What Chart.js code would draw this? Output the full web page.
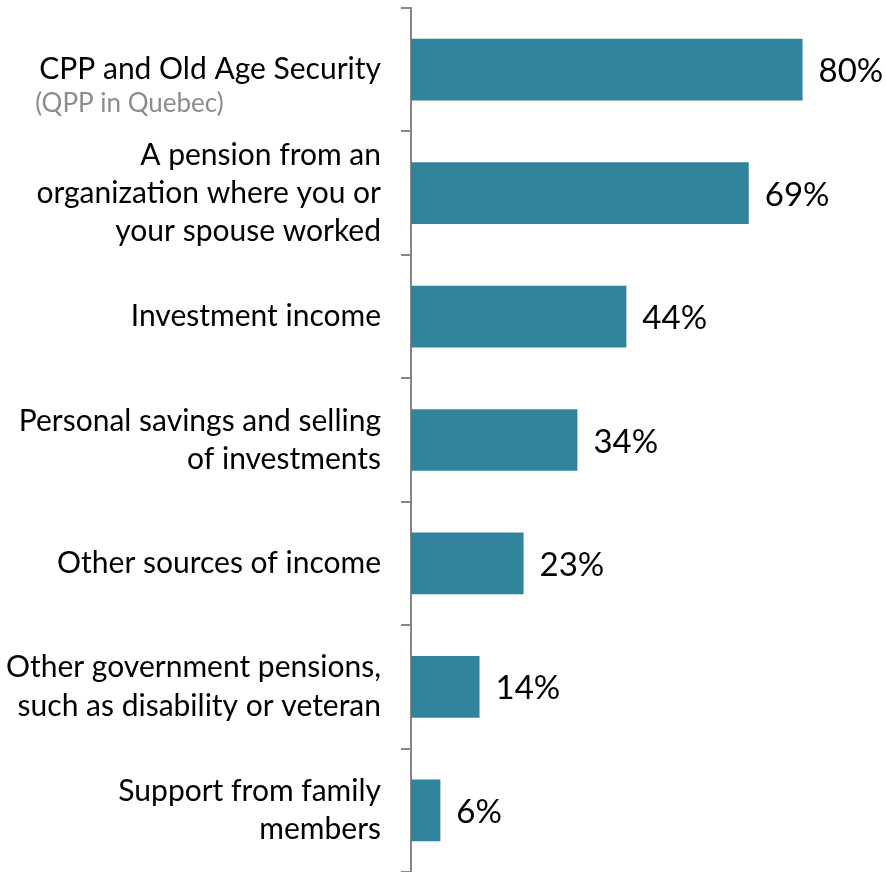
<!DOCTYPE html>
<html>
<head>
<meta charset="utf-8">
<script src="https://cdn.jsdelivr.net/npm/chart.js@4"></script>
<style>
  html, body { margin: 0; padding: 0; background: #fff; }
  #wrap { width: 886px; height: 872px; }
</style>
</head>
<body>
<div id="wrap"><canvas id="bars"></canvas></div>
<script>
const labels = [
  "CPP and Old Age Security",
  ["A pension from an", "organization where you or", "your spouse worked"],
  "Investment income",
  ["Personal savings and selling", "of investments"],
  "Other sources of income",
  ["Other government pensions,", "such as disability or veteran"],
  ["Support from family", "members"]
];
const values = [80, 69, 44, 34, 23, 14, 6];
const subNote = "(QPP in Quebec)";

const FONT = "Lato, 'Open Sans', sans-serif";

// percent labels at bar ends + grey note under the first category
const extras = {
  id: 'extras',
  afterDatasetsDraw(chart) {
    const ctx = chart.ctx;
    const meta = chart.getDatasetMeta(0);
    ctx.save();
    ctx.font = "33px " + FONT;
    ctx.fillStyle = "#000";
    ctx.textBaseline = "middle";
    ctx.textAlign = "left";
    meta.data.forEach(function(bar, i) {
      ctx.fillText(values[i] + "%", bar.x + 16, bar.y + 2);
    });
    // note under first label, left aligned with its first line
    const y = chart.scales.y;
    const right = y.right - 10 - 20;
    ctx.font = "30px " + FONT;
    const w = ctx.measureText(labels[0]).width;
    ctx.font = "26px " + FONT;
    ctx.fillStyle = "#8c8c8c";
    ctx.fillText(subNote, right - w - 4, meta.data[0].y + 34);
    ctx.restore();
  }
};

new Chart(document.getElementById('bars'), {
  type: 'bar',
  data: {
    labels: labels,
    datasets: [{
      data: values,
      backgroundColor: '#31849b',
      barPercentage: 0.5,
      categoryPercentage: 1.0
    }]
  },
  options: {
    indexAxis: 'y',
    responsive: true,
    maintainAspectRatio: false,
    animation: false,
    layout: { padding: { top: 8, right: 10, bottom: 0, left: 0 } },
    plugins: {
      legend: { display: false },
      tooltip: { enabled: false }
    },
    scales: {
      x: {
        display: false,
        min: 0,
        max: 95
      },
      y: {
        afterFit(s) {
          s.width = 411;
          s.paddingTop = 0;
          s.paddingBottom = 0;
        },
        border: { display: true, color: '#868686', width: 2 },
        grid: {
          display: true,
          offset: true,
          drawOnChartArea: false,
          drawTicks: true,
          tickLength: 10,
          color: '#868686',
          lineWidth: 2
        },
        ticks: {
          color: '#000',
          padding: 20,
          font: { family: FONT, size: 30, lineHeight: 1.27 }
        }
      }
    }
  },
  plugins: [extras]
});
</script>
</body>
</html>
